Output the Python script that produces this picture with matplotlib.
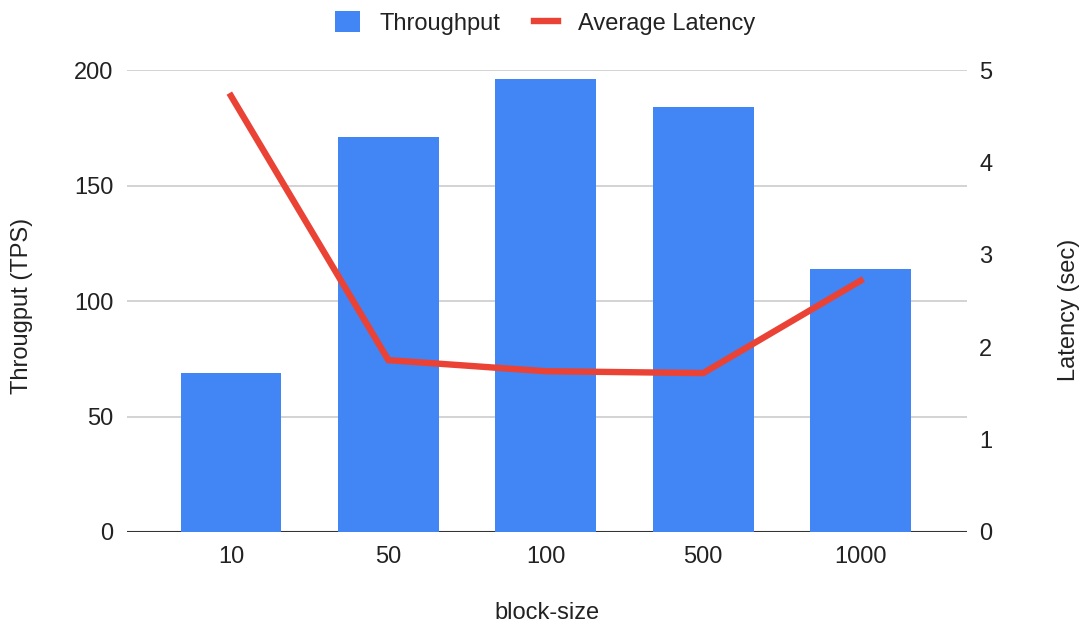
import matplotlib.pyplot as plt
import numpy as np
from matplotlib.lines import Line2D
from matplotlib.patches import Patch

plt.rcParams['font.family'] = ['Liberation Sans', 'DejaVu Sans']

# Block size benchmark results
block_sizes = ['10', '50', '100', '500', '1000']
throughput = [69, 171, 196, 184, 114]          # TPS
latency = [4.72, 1.86, 1.74, 1.72, 2.72]       # seconds

blue = '#4285F4'
red = '#EA4335'
text_color = '#222222'
fs = 17

fig = plt.figure(figsize=(10.86, 6.25), dpi=100)
ax = fig.add_axes([0.117, 0.1488, 0.773, 0.7392])
ax2 = ax.twinx()

x = np.arange(len(block_sizes))
ax.bar(x, throughput, width=0.64, color=blue, zorder=2)
ax2.plot(x, latency, color=red, linewidth=4.6, solid_joinstyle='miter', zorder=3)

ax.set_xlim(-0.66, 4.673)
ax.set_ylim(0, 200)
ax2.set_ylim(0, 5)
ax.set_yticks([0, 50, 100, 150, 200])
ax2.set_yticks([0, 1, 2, 3, 4, 5])
ax.set_xticks(x)
ax.set_xticklabels(block_sizes)

ax.grid(True, axis='y', color='#cccccc', linewidth=1.2, zorder=0)
ax.set_axisbelow(True)
ax.axhline(0, color='#333333', linewidth=1.5, zorder=1)

for a in (ax, ax2):
    for s in a.spines.values():
        s.set_visible(False)
    a.tick_params(length=0, labelsize=fs, labelcolor=text_color)
ax.tick_params(axis='y', pad=10)
ax.tick_params(axis='x', pad=10)
ax2.tick_params(axis='y', pad=9)

ax.set_xlabel('block-size', fontsize=fs, color=text_color, va='center')
ax.set_ylabel('Througput (TPS)', fontsize=fs, color=text_color, va='center')
ax2.set_ylabel('Latency (sec)', fontsize=fs, color=text_color, va='center')
ax.xaxis.set_label_coords(0.5, -0.175)
ax.yaxis.set_label_coords(-0.125, 0.49)
ax2.yaxis.set_label_coords(1.1226, 0.48)

handles = [Patch(facecolor=blue, edgecolor='none'),
           Line2D([0], [0], color=red, linewidth=4.6)]
fig.legend(handles, ['Throughput', 'Average Latency'], loc='center',
           bbox_to_anchor=(0.502, 0.963), ncol=2, frameon=False, fontsize=fs,
           handlelength=1.05, handleheight=1.0, columnspacing=1.4,
           handletextpad=0.85, labelcolor=text_color)

fig.savefig('out.png', dpi=100)
